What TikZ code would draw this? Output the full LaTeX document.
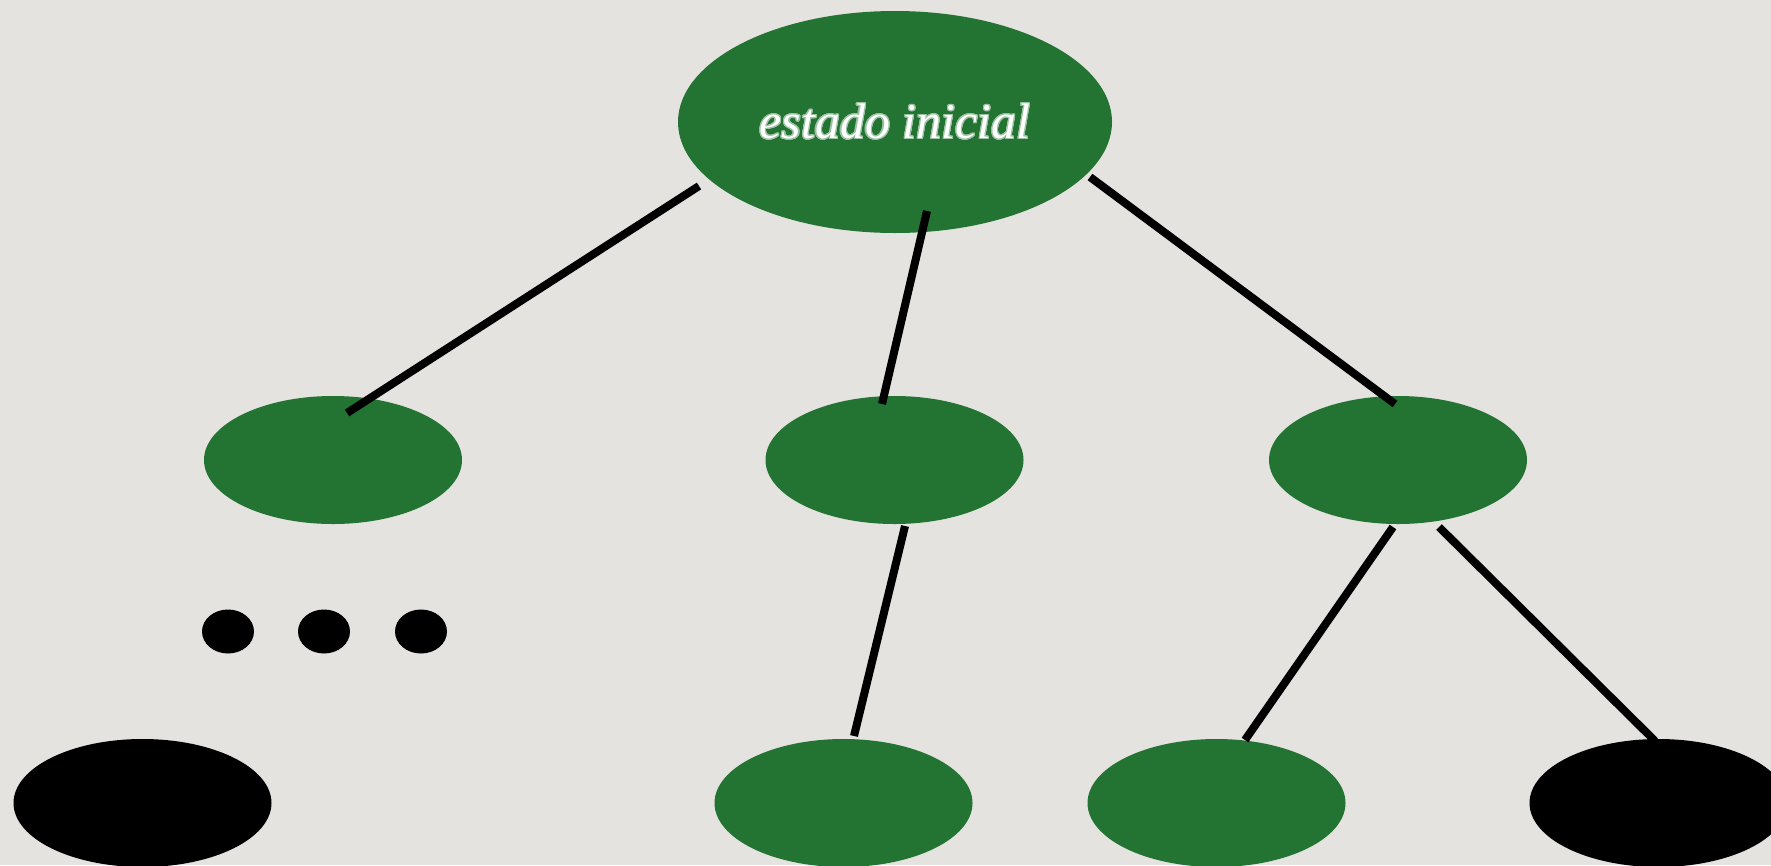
\documentclass[tikz,border=0pt]{standalone}
\usepackage{fontspec}
\usepackage{contour}
\newfontfamily\labelfont{Liberation Serif}
\usetikzlibrary{shapes.geometric,calc}
\definecolor{bg}{RGB}{228,227,223}
\definecolor{leaf}{RGB}{35,116,50}
\contourlength{1.2pt}
\contournumber{24}
\tikzset{
  state/.style={ellipse, fill=leaf, draw=none, inner sep=0pt, minimum width=258, minimum height=128},
  deadend/.style={state, fill=black},
  dotmark/.style={ellipse, fill=black, draw=none, inner sep=0pt, minimum width=52, minimum height=44},
  edge/.style={line width=8pt, black}
}
\begin{document}
\begin{tikzpicture}[x=1pt,y=-1pt]
\useasboundingbox (0,0) rectangle (1771,865);
\fill[bg] (0,0) rectangle (1771,865);
\node[state, minimum width=434, minimum height=222, text=white,
      font=\labelfont\fontsize{50}{56}\selectfont\itshape] (root) at (895,122) {\contour{leaf!45!white}{estado inicial}};
\node[state] (m1) at (333,460) {};
\node[state] (m2) at (894.5,460) {};
\node[state] (m3) at (1398,460) {};
\node[deadend] (b1) at (142.5,803) {};
\node[state] (b2) at (843.5,803) {};
\node[state] (b3) at (1216.5,803) {};
\node[deadend] (b4) at (1658.5,803) {};
\node[dotmark] (d1) at (228,631.5) {};
\node[dotmark] (d2) at (324,631.5) {};
\node[dotmark] (d3) at (421,631.5) {};
\draw[edge] ($(root)+(-196,64)$) -- ($(m1)+(14,-47)$);
\draw[edge] ($(root)+(32,89)$) -- ($(m2)+(-12.5,-56)$);
\draw[edge] ($(root)+(195,55)$) -- ($(m3)+(-3,-56)$);
\draw[edge] ($(m2)+(10.5,66)$) -- ($(b2)+(10.5,-67)$);
\draw[edge] ($(m3)+(-5,67)$) -- ($(b3)+(28.5,-63)$);
\draw[edge] ($(m3)+(41,67)$) -- ($(b4)+(-3.5,-62)$);
\end{tikzpicture}
\end{document}
